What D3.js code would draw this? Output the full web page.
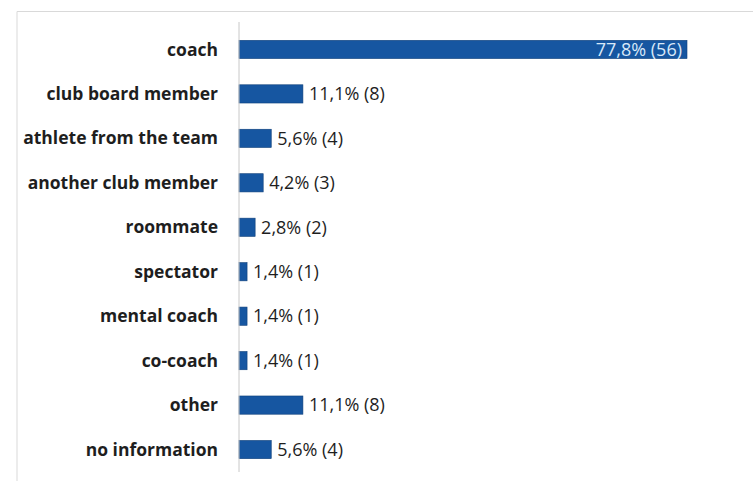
<!DOCTYPE html>
<html lang="en">
<head>
    <meta charset="UTF-8">
    <title>Chart</title>
    <style>
        body { margin: 0; background: #fff; }
        svg { display: block; font-family: "Open Sans", sans-serif; }
    </style>
</head>
<body>
    <script src="https://cdnjs.cloudflare.com/ajax/libs/d3/7.8.2/d3.min.js"></script>
    <script>

        const categories = ["coach", "club board member", "athlete from the team", "another club member",
            "roommate", "spectator", "mental coach", "co-coach", "other", "no information"]
        const percents = [77.8, 11.1, 5.6, 4.2, 2.8, 1.4, 1.4, 1.4, 11.1, 5.6]
        const counts = [56, 8, 4, 3, 2, 1, 1, 1, 8, 4]

        const w = 753
        const h = 481
        const axisX = 239

        const svg = d3.select("body")
            .append("svg")
                .attr("width", w)
                .attr("height", h)

        // frame, only top and left edges show
        svg.append("path")
            .attr("d", `M17,${h} V11.5 H${w}`)
            .attr("fill", "none")
            .attr("stroke", "#d9d9d9")
            .attr("stroke-width", 1)

        const x = d3.scaleLinear()
            .domain([0, 77.8])
            .range([axisX, 687])

        const y = d3.scaleBand()
            .domain(categories)
            .range([27, 472])
            .paddingInner(0.59)
            .paddingOuter(0.3)

        const fmt = (p, c) => d3.format(".1f")(p).replace(".", ",") + "% (" + c + ")"

        const rows = categories.map((c, i) => ({ cat: c, p: percents[i], n: counts[i] }))

        svg.selectAll("rect.bar")
            .data(rows)
            .enter()
            .append("rect")
                .attr("class", "bar")
                .attr("x", x(0))
                .attr("y", d => y(d.cat))
                .attr("width", d => x(d.p) - x(0))
                .attr("height", y.bandwidth())
                .attr("fill", "#1656a1")
                .attr("stroke", "#0e3f7a")
                .attr("stroke-width", 0.6)

        // category labels
        svg.selectAll("text.cat")
            .data(rows)
            .enter()
            .append("text")
                .attr("class", "cat")
                .attr("x", 218)
                .attr("y", d => y(d.cat) + y.bandwidth() / 2)
                .attr("dy", "0.35em")
                .attr("text-anchor", "end")
                .attr("font-size", 17.5)
                .attr("font-weight", 700)
                .attr("fill", "#1e1e1e")
                .text(d => d.cat)

        // value labels, the biggest one sits inside its bar
        svg.selectAll("text.val")
            .data(rows)
            .enter()
            .append("text")
                .attr("class", "val")
                .attr("x", d => d.p > 50 ? x(d.p) - 5 : x(d.p) + 6)
                .attr("y", d => y(d.cat) + y.bandwidth() / 2)
                .attr("dy", "0.35em")
                .attr("text-anchor", d => d.p > 50 ? "end" : "start")
                .attr("font-size", 18)
                .attr("fill", d => d.p > 50 ? "#d8e8f8" : "#1e1e1e")
                .text(d => fmt(d.p, d.n))

        // category axis line
        svg.append("line")
            .attr("x1", axisX)
            .attr("x2", axisX)
            .attr("y1", 22)
            .attr("y2", 472)
            .attr("stroke", "#c8c8c8")
            .attr("stroke-width", 1)

    </script>
</body>
</html>
